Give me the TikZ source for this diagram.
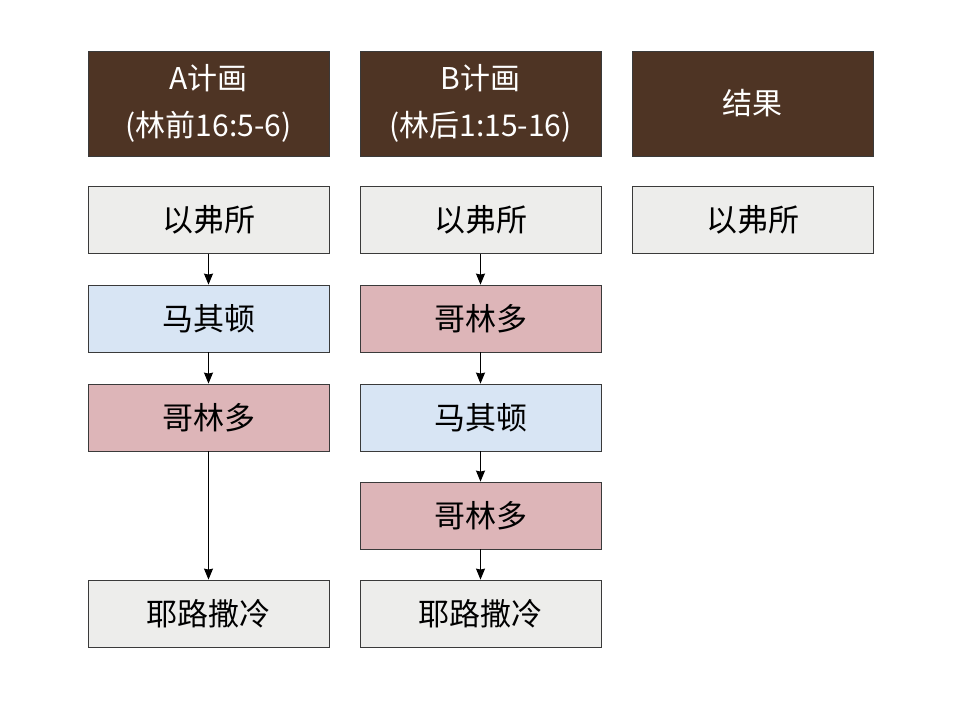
\documentclass[tikz,border=0pt]{standalone}
\usepackage{fontspec}
\setmainfont{Noto Sans CJK SC}
\usetikzlibrary{arrows.meta}
\definecolor{brownbg}{HTML}{4E3424}
\definecolor{graybg}{HTML}{EDEDEB}
\definecolor{bluebg}{HTML}{D8E5F4}
\definecolor{pinkbg}{HTML}{DDB5B8}
\definecolor{edge}{HTML}{3A3A3A}
\tikzset{
  box/.style={draw=edge, line width=0.8pt, minimum width=241pt, minimum height=67pt, inner sep=0pt, font=\fontsize{31}{36}\selectfont, text=black},
  hdr/.style={box, fill=brownbg, minimum height=105pt, text=white, align=center, font=\fontsize{30}{47}\selectfont},
  gray/.style={box, fill=graybg},
  blue/.style={box, fill=bluebg},
  pink/.style={box, fill=pinkbg},
  conn/.style={draw=black, line width=1.1pt, -{Stealth[length=11pt,width=9pt,inset=1pt]}}
}
\begin{document}
\begin{tikzpicture}[x=1pt,y=-1pt]
\fill[white] (0,0) rectangle (960,720);
\useasboundingbox (0,0) rectangle (960,720);
\node[hdr] (ha) at (208.5,103.5) {\raisebox{-3pt}{A计画}\\\raisebox{-3pt}{(林前16:5-6)}};
\node[hdr] (hb) at (480.5,103.5) {\raisebox{-3pt}{B计画}\\\raisebox{-3pt}{(林后1:15-16)}};
\node[hdr] (hc) at (752.5,103.5) {结果};
\node[gray] (a1) at (208.5,220) {以弗所};
\node[blue] (a2) at (208.5,318.5) {马其顿};
\node[pink] (a3) at (208.5,417.5) {哥林多};
\node[gray] (a5) at (208.5,613.5) {耶路撒冷};
\node[gray] (b1) at (480.5,220) {以弗所};
\node[pink] (b2) at (480.5,318.5) {哥林多};
\node[blue] (b3) at (480.5,417.5) {马其顿};
\node[pink] (b4) at (480.5,515.5) {哥林多};
\node[gray] (b5) at (480.5,613.5) {耶路撒冷};
\node[gray] (c1) at (752.5,220) {以弗所};
\draw[conn] (a1) -- (a2);
\draw[conn] (a2) -- (a3);
\draw[conn] (a3) -- (a5);
\draw[conn] (b1) -- (b2);
\draw[conn] (b2) -- (b3);
\draw[conn] (b3) -- (b4);
\draw[conn] (b4) -- (b5);
\end{tikzpicture}
\end{document}
